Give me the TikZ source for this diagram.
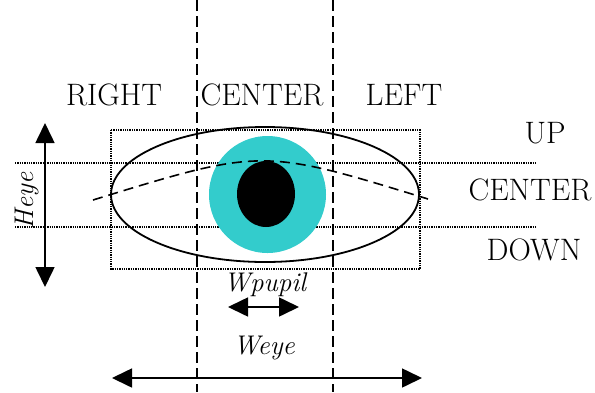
\documentclass[tikz,border=0pt]{standalone}
\usepackage{fontspec}
\usetikzlibrary{arrows.meta}
\definecolor{iris}{RGB}{51,204,204}
\begin{document}
\begin{tikzpicture}[x=1pt,y=-1pt,
  lbl/.style={font=\fontsize{31}{34}\selectfont},
  ilbl/.style={font=\fontsize{27}{30}\selectfont\itshape},
  grid/.style={densely dotted,line width=1.3pt},
  split/.style={dash pattern=on 11pt off 5pt,line width=1.6pt},
  dim/.style={line width=1.6pt,{Triangle[length=20pt,width=19pt]}-{Triangle[length=20pt,width=19pt]}}]
\useasboundingbox (0,0) rectangle (595,392);
% zones
\draw[split] (197,0) -- (197,392);
\draw[split] (333,0) -- (333,392);
\draw[grid] (111,130) rectangle (420,269);
\draw[grid] (15,163) -- (535,163);
\draw[grid] (15,227) -- (535,227);
% eye
\fill[iris] (267.5,194.5) circle[radius=58.5];
\fill[black] (266,194) ellipse[x radius=29,y radius=33];
\draw[line width=1.8pt] (265,194.5) ellipse[x radius=154,y radius=67.5];
\draw[line width=1.6pt,dash pattern=on 10pt off 6pt] (93,200) .. controls (262,148) .. (428,199);
% labels
\node[lbl] (r) at (114,95) {RIGHT};
\node[lbl] (c) at (262,95) {CENTER};
\node[lbl] (l) at (404,95) {LEFT};
\node[lbl] (up) at (545,133) {UP};
\node[lbl] (mid) at (530,190) {CENTER};
\node[lbl] (dn) at (534,250) {DOWN};
% dimensions
\coordinate (htop) at (45,123);
\coordinate (hbot) at (45,287);
\draw[dim] (htop) -- (hbot);
\node[ilbl,rotate=90] (heye) at (27,201) {Heye};
\node[ilbl] (wpupil) at (265,285) {Wpupil};
\coordinate (pl) at (228,307);
\coordinate (pr) at (299,307);
\draw[dim] (pl) -- (pr);
\node[ilbl] (weye) at (264,348) {Weye};
\coordinate (el) at (112,378);
\coordinate (er) at (422,378);
\draw[dim] (el) -- (er);
\end{tikzpicture}
\end{document}
